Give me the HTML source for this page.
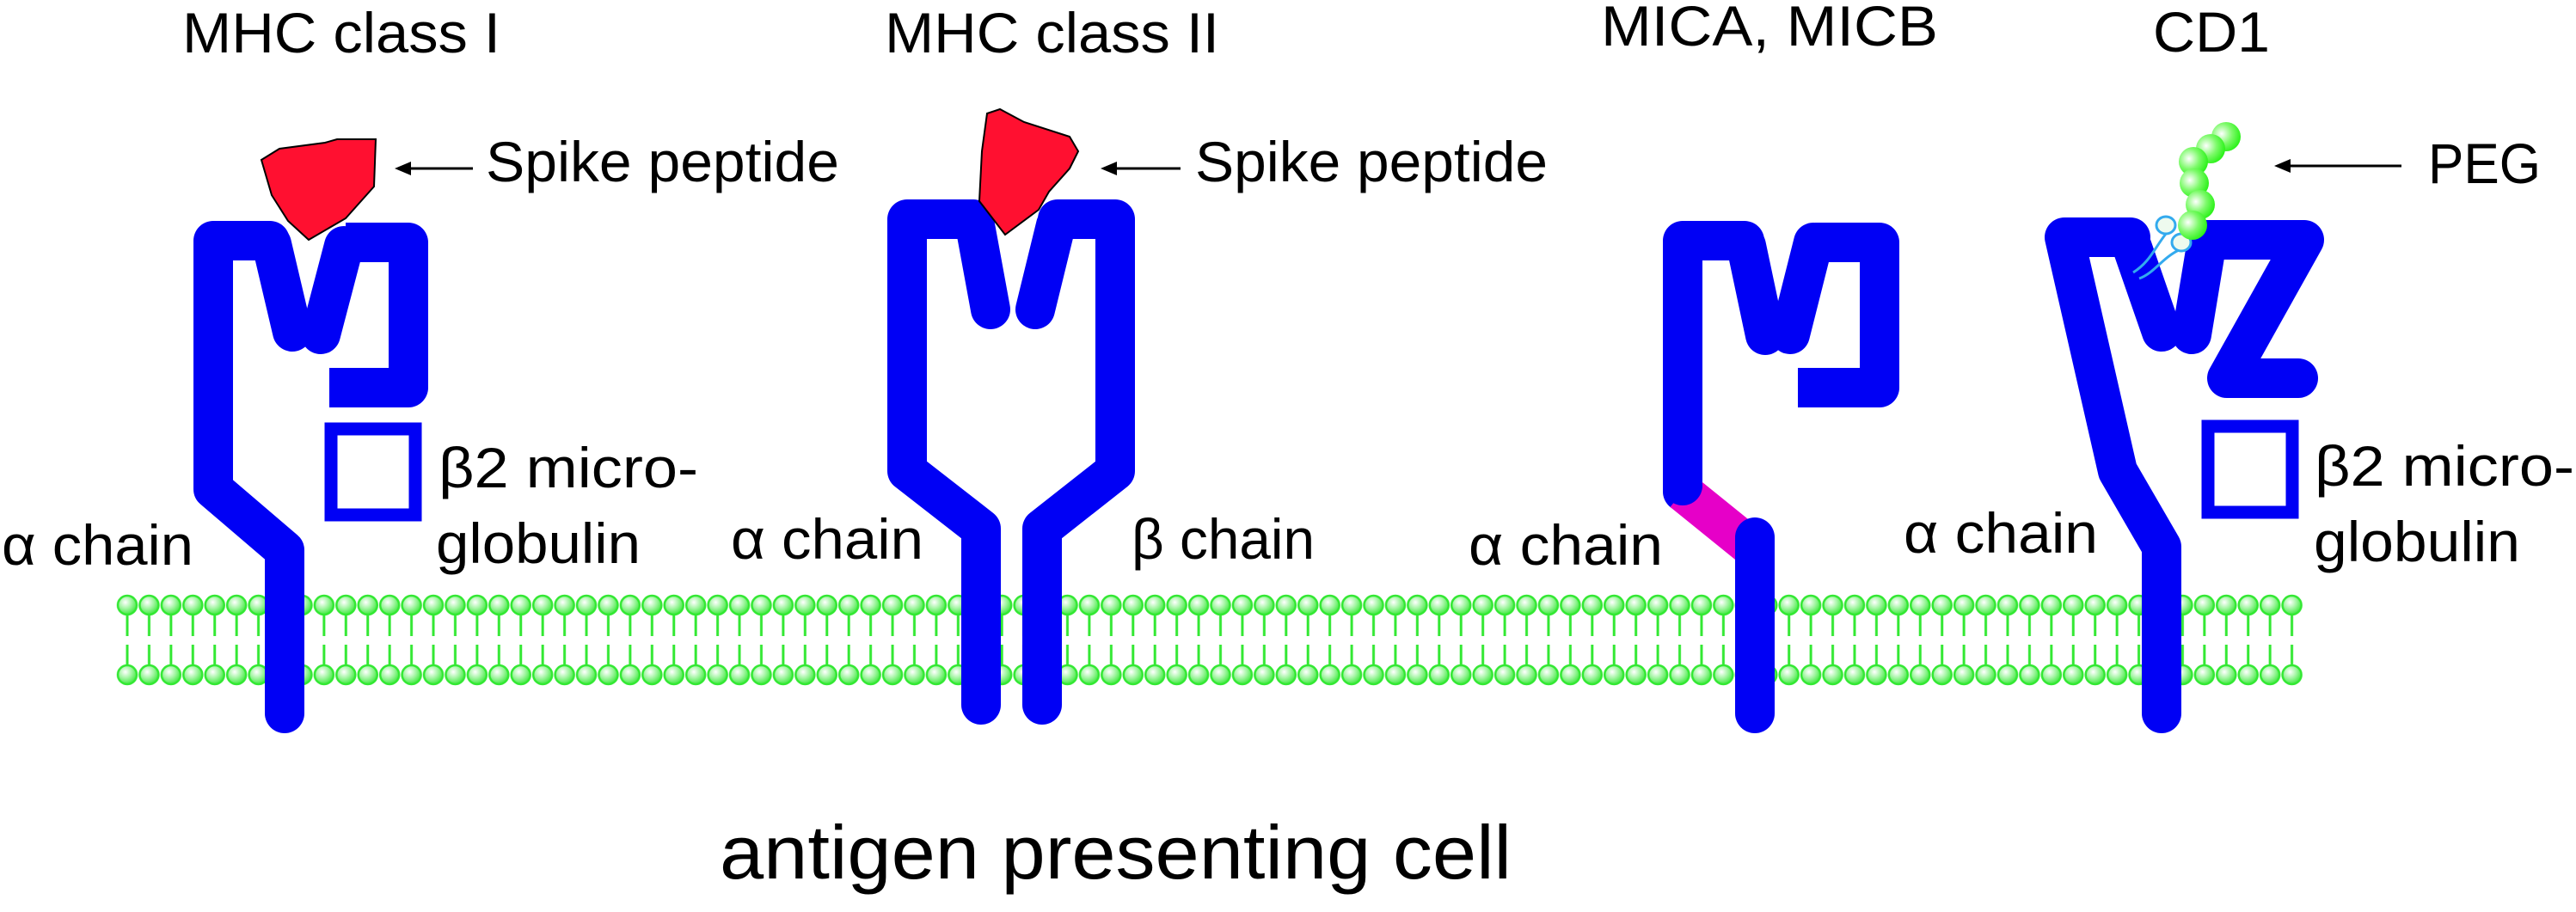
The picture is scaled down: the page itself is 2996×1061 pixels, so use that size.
<!DOCTYPE html>
<html><head><meta charset="utf-8"><style>
html,body{margin:0;padding:0;background:#fff;}
svg{display:block;}
text{font-family:"Liberation Sans",sans-serif;fill:#000;}
</style></head><body>
<svg width="2996" height="1061" viewBox="0 0 2996 1061" xmlns="http://www.w3.org/2000/svg">
<defs>
<radialGradient id="hg" cx="0.4" cy="0.35" r="0.7">
<stop offset="0" stop-color="#ffffff"/><stop offset="0.5" stop-color="#9ef59e"/><stop offset="1" stop-color="#33e833"/>
</radialGradient>
<radialGradient id="bg" cx="0.35" cy="0.4" r="0.65">
<stop offset="0" stop-color="#ffffff"/><stop offset="0.55" stop-color="#7dfa6a"/><stop offset="1" stop-color="#2ef21c"/>
</radialGradient>
<pattern id="lip" patternUnits="userSpaceOnUse" x="135.3" y="0" width="25.43" height="1061">
<line x1="12.7" y1="704" x2="12.7" y2="740" stroke="#33e833" stroke-width="3"/>
<line x1="12.7" y1="750" x2="12.7" y2="785" stroke="#33e833" stroke-width="3"/>
<ellipse cx="12.7" cy="704" rx="11" ry="11" fill="url(#hg)" stroke="#33e833" stroke-width="2.5"/>
<ellipse cx="12.7" cy="785" rx="11" ry="11" fill="url(#hg)" stroke="#33e833" stroke-width="2.5"/>
</pattern>
</defs>

<!-- membrane -->
<rect x="135.3" y="690" width="2543" height="110" fill="url(#lip)"/>

<g fill="none" stroke="#0000f5" stroke-width="46" stroke-linecap="round" stroke-linejoin="round">
<!-- MHC I -->
<polyline points="314,280 248,280 248,569 331,640 331,830"/>
<line x1="316" y1="284" x2="340" y2="386"/>
<line x1="400" y1="286" x2="373" y2="389"/>
<polyline points="402,282 475,282 475,451 383,451" stroke-linecap="butt"/>
<!-- MHC II -->
<polyline points="1132,255 1055,255 1055,548 1141,615 1141,820"/>
<line x1="1134" y1="262" x2="1152" y2="360"/>
<line x1="1228" y1="262" x2="1204" y2="360"/>
<polyline points="1230,255 1297,255 1297,548 1212,615 1212,820"/>
<!-- MICA -->
<polyline points="2029,280 1957,280 1957,572"/>
<line x1="2031" y1="286" x2="2053" y2="390"/>
<line x1="2109" y1="282" x2="2082" y2="389"/>
<polyline points="2111,282 2186,282 2186,451 2091,451" stroke-linecap="butt"/>
<!-- CD1 -->
<polyline points="2478,276 2401,276 2463,548 2514,636 2514,830"/>
<line x1="2480" y1="288" x2="2514" y2="386"/>
<line x1="2566" y1="286" x2="2549" y2="389"/>
<polyline points="2561,279 2680,279 2590,440 2673,440"/>
</g>
<!-- MICA pink link + stem -->
<line x1="1957" y1="572" x2="2041" y2="640" stroke="#e600c8" stroke-width="46"/>
<line x1="2041" y1="625" x2="2041" y2="830" stroke="#0000f5" stroke-width="46" stroke-linecap="round"/>
<circle cx="1957" cy="565" r="23" fill="#0000f5"/>

<!-- beta2m squares -->
<rect x="385" y="499" width="98" height="100" fill="none" stroke="#0000f5" stroke-width="15"/>
<rect x="2568" y="496" width="98" height="100" fill="none" stroke="#0000f5" stroke-width="15"/>

<!-- peptides -->
<polygon points="304,186 325,173 378,166 392,162 437,162 435,217 402,254 359,279 335,257 316,227" fill="#ff1030" stroke="#000" stroke-width="2"/>
<polygon points="1148,132 1163,127 1191,142 1244,159 1254,176 1244,196 1220,223 1208,244 1169,273 1139,234 1142,176" fill="#ff1030" stroke="#000" stroke-width="2"/>

<!-- CD1 lipid + PEG -->
<path d="M2519,272 C2505,290 2500,305 2481,317" fill="none" stroke="#33aaee" stroke-width="3"/>
<path d="M2534,291 C2515,300 2505,318 2488,324" fill="none" stroke="#33aaee" stroke-width="3"/>
<ellipse cx="2519" cy="262" rx="11" ry="10" fill="#eefaee" stroke="#33aaee" stroke-width="3"/>
<ellipse cx="2537" cy="282" rx="11" ry="10" fill="#eefaee" stroke="#33aaee" stroke-width="3"/>
<circle cx="2589" cy="159" r="17" fill="url(#bg)"/>
<circle cx="2571" cy="173" r="17" fill="url(#bg)"/>
<circle cx="2551" cy="188" r="17" fill="url(#bg)"/>
<circle cx="2552" cy="213" r="17" fill="url(#bg)"/>
<circle cx="2559" cy="238" r="17" fill="url(#bg)"/>
<circle cx="2550" cy="262" r="17" fill="url(#bg)"/>

<!-- arrows -->
<g stroke="#000" stroke-width="3"><line x1="470" y1="196" x2="550" y2="196"/><line x1="1292" y1="196" x2="1373" y2="196"/><line x1="2657" y1="193" x2="2793" y2="193"/></g>
<polygon points="459,196 478,188 478,204" fill="#000"/>
<polygon points="1280,196 1299,188 1299,204" fill="#000"/>
<polygon points="2645,193 2664,185 2664,201" fill="#000"/>

<!-- text -->
<g font-size="66">
<text x="212" y="61" textLength="370" lengthAdjust="spacingAndGlyphs">MHC class I</text>
<text x="1029" y="61" textLength="389" lengthAdjust="spacingAndGlyphs">MHC class II</text>
<text x="1862" y="53" textLength="392" lengthAdjust="spacingAndGlyphs">MICA, MICB</text>
<text x="2504" y="60" textLength="136" lengthAdjust="spacingAndGlyphs">CD1</text>
<text x="565" y="211" textLength="411" lengthAdjust="spacingAndGlyphs">Spike peptide</text>
<text x="1390" y="211" textLength="410" lengthAdjust="spacingAndGlyphs">Spike peptide</text>
<text x="2824" y="213" textLength="131" lengthAdjust="spacingAndGlyphs">PEG</text>
<text x="510" y="567" textLength="302" lengthAdjust="spacingAndGlyphs">β2 micro-</text>
<text x="507" y="655" textLength="238" lengthAdjust="spacingAndGlyphs">globulin</text>
<text x="2692" y="565" textLength="302" lengthAdjust="spacingAndGlyphs">β2 micro-</text>
<text x="2691" y="653" textLength="240" lengthAdjust="spacingAndGlyphs">globulin</text>
<text x="2" y="657" textLength="223" lengthAdjust="spacingAndGlyphs">α chain</text>
<text x="850" y="650" textLength="224" lengthAdjust="spacingAndGlyphs">α chain</text>
<text x="1316" y="650" textLength="213" lengthAdjust="spacingAndGlyphs">β chain</text>
<text x="1708" y="657" textLength="226" lengthAdjust="spacingAndGlyphs">α chain</text>
<text x="2214" y="643" textLength="226" lengthAdjust="spacingAndGlyphs">α chain</text>
</g>
<text x="837" y="1022" font-size="88" textLength="921" lengthAdjust="spacingAndGlyphs">antigen presenting cell</text>
</svg>
</body></html>
